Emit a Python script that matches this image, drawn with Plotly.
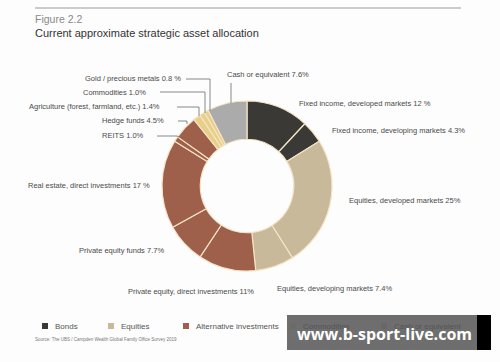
import plotly.graph_objects as go

W, H = 500, 362

# ---- data ----
categories = [
    "Fixed income, developed markets",
    "Fixed income, developing markets",
    "Equities, developed markets",
    "Equities, developing markets",
    "Private equity, direct investments",
    "Private equity funds",
    "Real estate, direct investments",
    "REITS",
    "Hedge funds",
    "Agriculture (forest, farmland, etc.)",
    "Commodities",
    "Gold / precious metals",
    "Cash or equivalent",
]
values = [12, 4.3, 25, 7.4, 11, 7.7, 17, 1.0, 4.5, 1.4, 1.0, 0.8, 7.6]
value_labels = ["12 %", "4.3%", "25%", "7.4%", "11%", "7.7%", "17 %", "1.0%", "4.5%", "1.4%", "1.0%", "0.8 %", "7.6%"]
groups = ["Bonds", "Bonds", "Equities", "Equities", "Alternative investments",
          "Alternative investments", "Alternative investments", "Alternative investments",
          "Alternative investments", "Commodities", "Commodities", "Commodities",
          "Cash or equivalent"]
legend_names = ["Bonds", "Equities", "Alternative investments", "Commodities", "Cash or equivalent"]
group_colors = {
    "Bonds": "#3b3936",
    "Equities": "#c9b99b",
    "Alternative investments": "#9e5f4b",
    "Commodities": "#e8cf88",
    "Cash or equivalent": "#ababab",
}

def px(x):
    return x / W

def py(y):
    return 1 - y / H

cx, cy, R = 247, 186, 85

fig = go.Figure(go.Pie(
    labels=categories,
    values=values,
    sort=False,
    direction="clockwise",
    rotation=0,
    hole=0.55,
    textinfo="none",
    marker=dict(colors=[group_colors[g] for g in groups],
                line=dict(color="#f4e4c6", width=1.2)),
    domain=dict(x=[px(cx - R), px(cx + R)], y=[py(cy + R), py(cy - R)]),
    showlegend=False,
))

font = "Liberation Sans, Arial, sans-serif"
tcol = "#4a4a4a"
ann = []
shapes = []

def label(text, x, y, anchor="left", size=7.5, color=tcol):
    ann.append(dict(text=text, x=px(x), y=py(y), xref="paper", yref="paper",
                    xanchor=anchor, yanchor="middle", showarrow=False,
                    font=dict(family=font, size=size, color=color)))

def line(pts, color="#6a6a6a", width=0.8):
    for (x0, y0), (x1, y1) in zip(pts[:-1], pts[1:]):
        shapes.append(dict(type="line", xref="paper", yref="paper",
                           x0=px(x0), y0=py(y0), x1=px(x1), y1=py(y1),
                           line=dict(color=color, width=width)))

# label positions (pixel) per category
pos = {
    "Fixed income, developed markets": (297, 104, "left"),
    "Fixed income, developing markets": (330, 130, "left"),
    "Equities, developed markets": (347, 200, "left"),
    "Equities, developing markets": (275, 288, "left"),
    "Private equity, direct investments": (256, 291, "right"),
    "Private equity funds": (166, 251, "right"),
    "Real estate, direct investments": (152, 185, "right"),
    "REITS": (146, 136, "right"),
    "Hedge funds": (166, 121, "right"),
    "Agriculture (forest, farmland, etc.)": (162, 107, "right"),
    "Commodities": (148, 92, "right"),
    "Gold / precious metals": (183, 79, "right"),
    "Cash or equivalent": (225, 75, "left"),
}
for c, v in zip(categories, value_labels):
    x, y, a = pos[c]
    label(f"{c} {v}", x, y, a)

# leader lines
line([(186, 79), (210, 79), (210, 111)])
line([(160, 92), (205, 92), (205, 113)])
line([(177, 107), (199, 107), (199, 116)])
line([(178, 121), (187, 121), (187, 124)])
line([(157, 136), (177, 136), (179, 137)])
line([(231, 83), (231, 103)])

# title & rule
shapes.append(dict(type="line", xref="paper", yref="paper", x0=px(35), x1=px(461),
                   y0=py(8), y1=py(8), line=dict(color="#9a9a9a", width=1)))
label("Figure 2.2", 33, 19, size=10.5, color="#8a8a8a")
label("Current approximate strategic asset allocation", 33, 33, size=11, color="#333333")

# legend
leg_x = [42, 108, 183, 290, 381]
for name, x in zip(legend_names, leg_x):
    shapes.append(dict(type="rect", xref="paper", yref="paper",
                       x0=px(x), x1=px(x + 6), y0=py(329), y1=py(323),
                       fillcolor=group_colors[name], line=dict(width=0)))
    label(name, x + 11, 326, size=8, color="#555555")

label("Source: The UBS / Campden Wealth Global Family Office Survey 2019", 33, 339, size=4.5, color="#777777")

# watermark overlay
shapes.append(dict(type="rect", xref="paper", yref="paper", x0=px(287), x1=px(477),
                   y0=py(350), y1=py(315), fillcolor="#636363", opacity=0.93,
                   line=dict(width=0), layer="above"))
shapes.append(dict(type="rect", xref="paper", yref="paper", x0=px(477), x1=px(491),
                   y0=py(350), y1=py(315), fillcolor="#000000",
                   line=dict(width=0), layer="above"))
ann.append(dict(text="<b>www.b-sport-live.com</b>", x=px(384), y=py(334), xref="paper", yref="paper",
                xanchor="center", yanchor="middle", showarrow=False,
                font=dict(family="Open Sans, sans-serif", size=16, color="#ffffff")))

fig.update_layout(
    width=W, height=H,
    margin=dict(l=0, r=0, t=0, b=0),
    paper_bgcolor="#fdfdfd",
    plot_bgcolor="#fdfdfd",
    annotations=ann,
    shapes=shapes,
)

fig.write_html("out.html", config={"displayModeBar": False},
               post_script="document.body.style.margin='0';")
